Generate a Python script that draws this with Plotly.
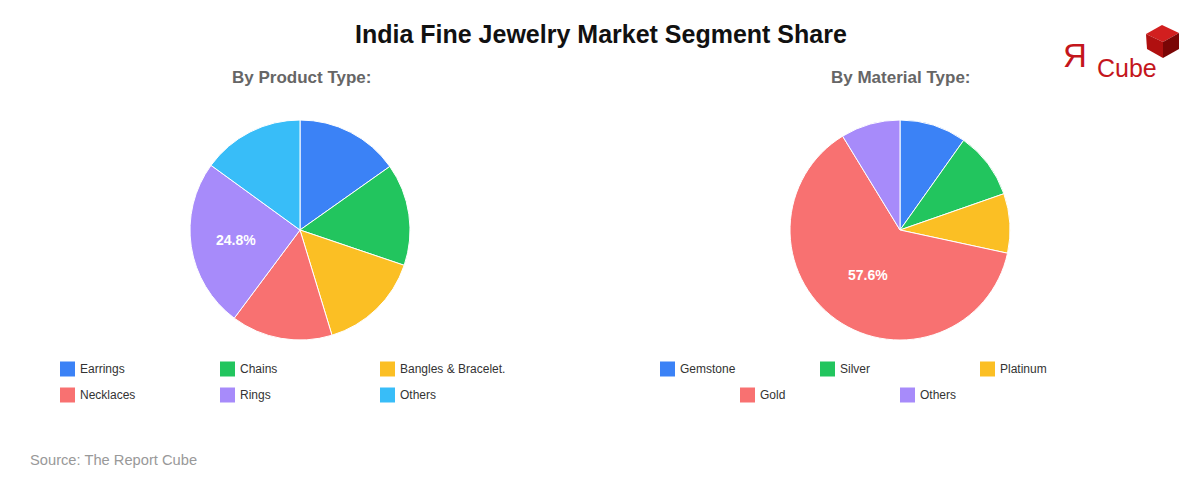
import plotly.graph_objects as go

W, H = 1200, 480

# ---------------- data ----------------
product_labels = ["Earrings", "Chains", "Bangles & Bracelet.", "Necklaces", "Rings", "Others"]
product_values = [15.2, 15.0, 15.1, 14.9, 24.8, 15.0]

material_labels = ["Gemstone", "Silver", "Platinum", "Gold", "Others"]
material_values = [9.0, 9.0, 8.0, 57.6, 8.0]

product_colors = ["#3b82f6", "#22c55e", "#fbbf24", "#f87171", "#a78bfa", "#38bdf8"]
material_colors = ["#3b82f6", "#22c55e", "#fbbf24", "#f87171", "#a78bfa"]

FONT = "Arial, Liberation Sans, sans-serif"


def px(x):
    return x / W


def py(y):
    return 1 - y / H


def label_only_max(values):
    m = max(values)
    return ["%{value:.1f}%" if v == m else "" for v in values]


fig = go.Figure()

fig.add_trace(go.Pie(
    labels=product_labels, values=product_values, sort=False,
    direction="clockwise", rotation=0,
    marker=dict(colors=product_colors, line=dict(color="white", width=1)),
    texttemplate=label_only_max(product_values), textposition="inside",
    insidetextorientation="horizontal",
    textfont=dict(color="white", size=14, family=FONT, weight="bold"),
    domain=dict(x=[px(190), px(410)], y=[py(340), py(120)]),
    showlegend=False,
))

fig.add_trace(go.Pie(
    labels=material_labels, values=material_values, sort=False,
    direction="clockwise", rotation=0,
    marker=dict(colors=material_colors, line=dict(color="white", width=1)),
    texttemplate=label_only_max(material_values), textposition="inside",
    insidetextorientation="horizontal",
    textfont=dict(color="white", size=14, family=FONT, weight="bold"),
    domain=dict(x=[px(790), px(1010)], y=[py(340), py(120)]),
    showlegend=False,
))

annotations = []
shapes = []


def text(t, x, y, size, color, xanchor="center"):
    annotations.append(dict(text=t, x=px(x), y=py(y), xanchor=xanchor, yanchor="middle",
                            xref="paper", yref="paper", showarrow=False,
                            font=dict(size=size, color=color, family=FONT)))


# Title & subtitles
text("<b>India Fine Jewelry Market Segment Share</b>", 601, 34, 25, "#111111")
text("<b>By Product Type:</b>", 301, 77, 17, "#666666")
text("<b>By Material Type:</b>", 901, 77, 17, "#666666")
text("Source: The Report Cube", 28, 460, 14.7, "#999999", xanchor="left")


# Legends (manual grid)
def add_legend(labels, colors, positions):
    for lab, col, (sx, sy) in zip(labels, colors, positions):
        shapes.append(dict(type="rect", xref="paper", yref="paper",
                           x0=px(sx), x1=px(sx + 15), y0=py(sy - 7.5), y1=py(sy + 7.5),
                           fillcolor=col, line=dict(width=0)))
        text(lab, sx + 18, sy, 12, "#333333", xanchor="left")


add_legend(product_labels, product_colors,
           [(60, 369), (220, 369), (380, 369), (60, 395), (220, 395), (380, 395)])
add_legend(material_labels, material_colors,
           [(660, 369), (820, 369), (980, 369), (740, 395), (900, 395)])

# Logo: "ЯCube" with cube
text("Я", 1061, 55, 33, "#c4161c", xanchor="left")
text("Cube", 1095, 68, 25, "#c4161c", xanchor="left")


def poly(pts, color):
    d = "M " + " L ".join(f"{px(x):.5f},{py(y):.5f}" for x, y in pts) + " Z"
    shapes.append(dict(type="path", xref="paper", yref="paper", path=d,
                       fillcolor=color, line=dict(width=0)))


poly([(1162, 25), (1179, 33), (1163, 42), (1146, 34)], "#d21f1f")      # top
poly([(1146, 34), (1163, 42), (1163, 58), (1147, 49)], "#b01010")      # left
poly([(1163, 42), (1179, 33), (1179, 49), (1163, 58)], "#7a0606")      # right

fig.update_layout(
    width=W, height=H,
    margin=dict(l=0, r=0, t=0, b=0),
    paper_bgcolor="white", plot_bgcolor="white",
    annotations=annotations, shapes=shapes,
    font=dict(family=FONT),
)

fig.write_html("out.html")
